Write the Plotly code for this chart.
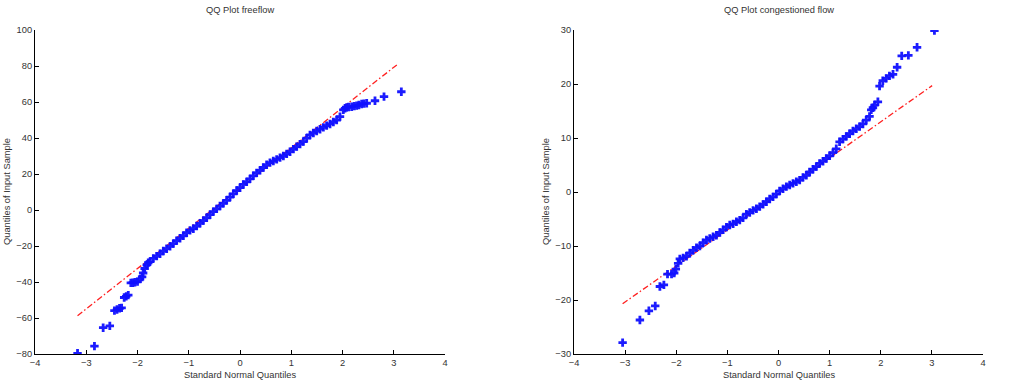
import plotly.graph_objects as go

# ---------------- Left panel: QQ Plot freeflow ----------------
ff_x = [-3.17, -2.84, -2.67, -2.54, -2.45, -2.40, -2.35, -2.31, -2.26, -2.22, -2.18,
        -2.13, -2.09, -2.05, -2.00, -1.95, -1.91, -1.89, -1.86, -1.82, -1.79,
        -1.756, -1.691, -1.626, -1.561, -1.496, -1.431, -1.366, -1.301, -1.236, -1.171,
        -1.106, -1.041, -0.976, -0.911, -0.846, -0.780, -0.715, -0.650, -0.585, -0.520,
        -0.455, -0.390, -0.325, -0.260, -0.195, -0.130, -0.065, 0.0, 0.065, 0.130,
        0.195, 0.260, 0.325, 0.390, 0.455, 0.520, 0.585, 0.650, 0.716, 0.781,
        0.846, 0.911, 0.976, 1.041, 1.106, 1.171, 1.236, 1.301, 1.366, 1.431,
        1.496, 1.561, 1.626, 1.691, 1.756, 1.821, 1.886, 1.951,
        2.016, 2.05, 2.081, 2.12, 2.179, 2.23, 2.276, 2.32, 2.374, 2.42, 2.472, 2.634, 2.810, 3.148]
ff_y = [-79.6, -75.6, -65.4, -64.4, -55.9, -55.3, -54.6, -54.4, -48.6, -48.0, -47.3,
        -40.5, -40.4, -40.1, -39.8, -38.4, -37.2, -35.0, -32.5, -30.5, -29.3,
        -28.7, -26.9, -25.6, -24.3, -22.8, -21.5, -20.2, -18.7, -17.0, -15.7,
        -14.3, -12.6, -11.3, -10.4, -8.9, -7.4, -5.9, -4.3, -2.6, -0.9,
        0.6, 2.2, 3.7, 5.4, 7.2, 9.0, 10.8, 12.4, 14.2, 15.6,
        17.3, 19.0, 20.6, 22.0, 23.6, 25.1, 26.3, 27.2, 28.1, 29.1,
        30.0, 31.2, 32.4, 33.8, 35.2, 36.6, 38.0, 39.9, 41.7, 42.8,
        43.9, 44.9, 45.9, 46.9, 47.8, 48.9, 50.0, 51.9,
        55.6, 56.5, 57.0, 57.2, 57.4, 57.7, 58.0, 58.3, 58.9, 59.1, 59.3, 60.7, 63.0, 65.7]
ff_line_x = [-3.17, 3.06]
ff_line_y = [-58.7, 80.6]
ff_xticks = [-4, -3, -2, -1, 0, 1, 2, 3, 4]
ff_yticks = [-80, -60, -40, -20, 0, 20, 40, 60, 80, 100]

# ---------------- Right panel: QQ Plot congestioned flow ----------------
cf_x = [-3.049, -2.711, -2.535, -2.411, -2.320, -2.242, -2.171, -2.092, -2.040, -2.008, -1.963,
        -1.930, -1.865, -1.800, -1.735, -1.669, -1.604, -1.539, -1.474, -1.409, -1.344,
        -1.279, -1.214, -1.148, -1.083, -1.018, -0.953, -0.888, -0.823, -0.758, -0.693,
        -0.628, -0.563, -0.497, -0.432, -0.367, -0.302, -0.237, -0.172, -0.107, -0.042,
        0.023, 0.088, 0.154, 0.219, 0.284, 0.349, 0.414, 0.479, 0.544, 0.609,
        0.674, 0.740, 0.805, 0.870, 0.935, 1.000, 1.065, 1.130, 1.195, 1.261,
        1.326, 1.391, 1.456, 1.521, 1.586, 1.651, 1.716, 1.781, 1.814, 1.847,
        1.879, 1.944,
        1.977, 2.04, 2.107, 2.17, 2.24, 2.32, 2.41, 2.54, 2.71, 3.05]
cf_y = [-27.9, -23.7, -22.0, -21.1, -17.5, -17.2, -15.2, -15.2, -15.0, -14.3, -13.2,
        -12.4, -12.2, -11.9, -11.3, -10.8, -10.3, -10.0, -9.4, -8.9, -8.6,
        -8.3, -8.0, -7.5, -7.0, -6.5, -6.1, -5.9, -5.5, -5.2, -4.8,
        -4.1, -3.8, -3.4, -3.1, -2.7, -2.3, -1.8, -1.3, -0.9, -0.4,
        0.2, 0.6, 1.0, 1.3, 1.6, 1.9, 2.2, 2.7, 3.1, 3.7,
        4.2, 4.7, 5.3, 5.7, 6.2, 6.7, 7.3, 8.0, 9.3, 9.8,
        10.3, 10.8, 11.3, 11.7, 12.1, 12.6, 13.3, 14.0, 15.2, 15.6,
        16.1, 16.7,
        19.6, 20.6, 21.05, 21.5, 21.8, 23.1, 25.2, 25.3, 26.8, 29.9]
cf_line_x = [-3.049, 3.005]
cf_line_y = [-20.7, 19.7]
cf_xticks = [-4, -3, -2, -1, 0, 1, 2, 3, 4]
cf_yticks = [-30, -20, -10, 0, 10, 20, 30]

titles = ["QQ Plot freeflow", "QQ Plot congestioned flow"]
xlabel = "Standard Normal Quantiles"
ylabel = "Quantiles of Input Sample"

FONT = "Liberation Sans, Arial, sans-serif"
TXT = "#333333"
FS = 9.3
line_dash = "6px,2.5px,1.5px,2.5px"
marker = dict(symbol="cross", size=7, line=dict(width=0), color="#1010ff", opacity=0.95)

fig = go.Figure()
fig.add_trace(go.Scatter(x=ff_line_x, y=ff_line_y, mode="lines",
                         line=dict(color="#ff2020", width=1.3, dash=line_dash),
                         xaxis="x", yaxis="y", hoverinfo="skip"))
fig.add_trace(go.Scatter(x=ff_x, y=ff_y, mode="markers", marker=marker, xaxis="x", yaxis="y"))
fig.add_trace(go.Scatter(x=cf_line_x, y=cf_line_y, mode="lines",
                         line=dict(color="#ff2020", width=1.3, dash=line_dash),
                         xaxis="x2", yaxis="y2", hoverinfo="skip"))
fig.add_trace(go.Scatter(x=cf_x, y=cf_y, mode="markers", marker=marker, xaxis="x2", yaxis="y2"))

# plot area in pixels: x 35..983, y 30..354
L, R, T, B = 35, 26, 30, 30
W, H = 1009, 384
PW = W - L - R
PH = H - T - B
def px2paper_x(px):
    return (px - L) / PW
def py2paper_y(py):
    return (H - B - py) / PH

axis_common = dict(showline=True, linecolor="black", linewidth=1, ticks="inside",
                   ticklen=4, tickwidth=1, tickcolor="black", showgrid=False, zeroline=False,
                   mirror=False, tickfont=dict(family=FONT, size=FS, color=TXT), automargin=False,
                   fixedrange=True)

fig.update_layout(
    width=W, height=H,
    margin=dict(l=L, r=R, t=T, b=B, pad=0),
    paper_bgcolor="white", plot_bgcolor="white",
    showlegend=False,
    xaxis=dict(domain=[0, px2paper_x(445)], range=[-4, 4], tickvals=ff_xticks, anchor="y", **axis_common),
    yaxis=dict(domain=[0, 1], range=[-80, 100], tickvals=ff_yticks, anchor="x", **axis_common),
    xaxis2=dict(domain=[px2paper_x(574), 1], range=[-4, 4], tickvals=cf_xticks, anchor="y2", **axis_common),
    yaxis2=dict(domain=[0, 1], range=[-30, 30], tickvals=cf_yticks, anchor="x2", **axis_common),
)

ann_font = dict(family=FONT, size=FS, color=TXT)
centers = [(35 + 445) / 2, (574 + 983) / 2]
ylab_x = [7, 546]
for i in range(2):
    fig.add_annotation(text=titles[i], xref="paper", yref="paper", x=px2paper_x(centers[i]),
                       y=py2paper_y(10), xanchor="center", yanchor="middle", showarrow=False, font=ann_font)
    fig.add_annotation(text=xlabel, xref="paper", yref="paper", x=px2paper_x(centers[i]),
                       y=py2paper_y(375), xanchor="center", yanchor="middle", showarrow=False, font=ann_font)
    fig.add_annotation(text=ylabel, xref="paper", yref="paper", x=px2paper_x(ylab_x[i]),
                       y=py2paper_y(192), xanchor="center", yanchor="middle", textangle=-90,
                       showarrow=False, font=ann_font)

fig.write_html("out.html")
